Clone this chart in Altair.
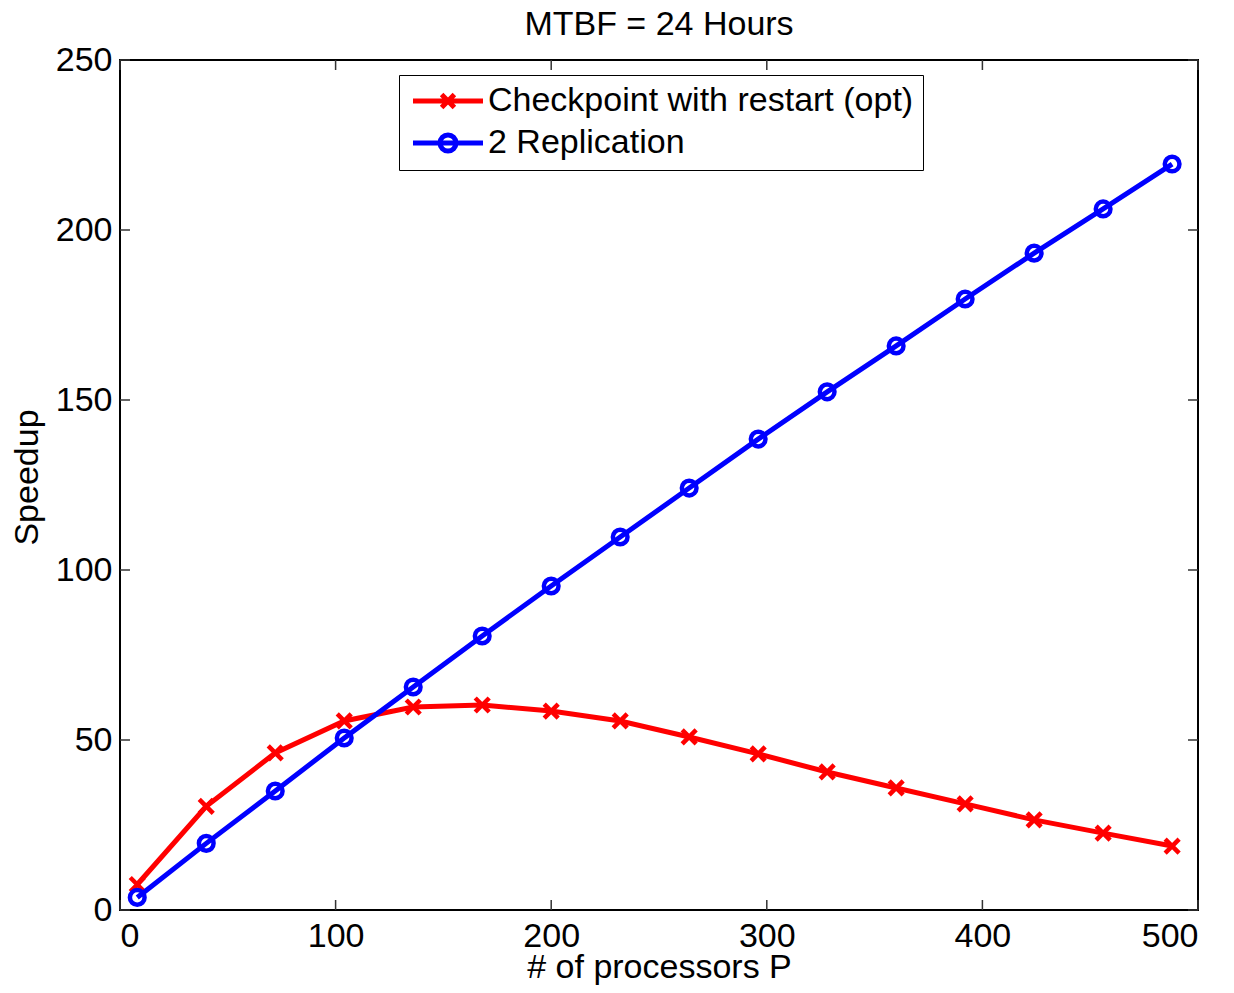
import altair as alt
import pandas as pd

# ---- data ----
procs = [8, 40, 72, 104, 136, 168, 200, 232, 264, 296, 328, 360, 392, 424, 456, 488]
checkpoint = [7.5, 30.5, 46.2, 55.6, 59.7, 60.3, 58.5, 55.6, 50.9, 45.9, 40.6, 35.9, 31.2, 26.5, 22.6, 18.8]
replication = [3.7, 19.6, 35.0, 50.6, 65.6, 80.6, 95.3, 109.7, 124.1, 138.5, 152.4, 165.9, 179.7, 193.2, 206.2, 219.4]
series_names = ["Checkpoint with restart (opt)", "2 Replication"]
series_colors = ["#ff0000", "#0000ff"]
x_ticks = [0, 100, 200, 300, 400, 500]
y_ticks = [0, 50, 100, 150, 200, 250]

FONT = "Liberation Sans"
FS = 34
W, H = 1078, 850

df = pd.DataFrame({
    "P": procs * 2,
    "Speedup": checkpoint + replication,
    "series": [series_names[0]] * len(procs) + [series_names[1]] * len(procs),
})

xs = alt.Scale(domain=[0, 500], nice=False, zero=False)
ys = alt.Scale(domain=[0, 250], nice=False)

x_axis = alt.Axis(values=x_ticks, grid=False, domain=False, ticks=False, tickSize=0,
                  labelFontSize=FS, labelFont=FONT, labelColor="black", labelPadding=9,
                  title="# of processors P", titleFontSize=FS, titleFont=FONT,
                  titleFontWeight="normal", titleColor="black", titleY=67,
                  titleBaseline="alphabetic")
y_axis = alt.Axis(values=y_ticks, grid=False, domain=False, ticks=False, tickSize=0,
                  labelFontSize=FS, labelFont=FONT, labelColor="black", labelPadding=8,
                  title="Speedup", titleFontSize=FS, titleFont=FONT,
                  titleFontWeight="normal", titleColor="black", titleX=-83, titleY=417,
                  titleBaseline="alphabetic")

base = alt.Chart(df)

cross_path = "M-1,-1L1,1M1,-1L-1,1"


def series_layers(name, color, shape, size):
    d = base.transform_filter(alt.datum.series == name)
    line = d.mark_line(color=color, strokeWidth=5).encode(
        x=alt.X("P:Q", scale=xs, axis=x_axis),
        y=alt.Y("Speedup:Q", scale=ys, axis=y_axis),
    )
    pts = d.mark_point(shape=shape, size=size, color=color, filled=False, strokeWidth=4.5,
                       opacity=1).encode(x=alt.X("P:Q", scale=xs), y=alt.Y("Speedup:Q", scale=ys))
    return [line, pts]


layers = []
layers += series_layers(series_names[0], series_colors[0], cross_path, 196)
layers += series_layers(series_names[1], series_colors[1], "circle", 215)

# legend symbols: line segment with the marker in the middle (units of 8 px)
leg_red = "M-1.5,0L7.25,0M2.075,-0.8L3.675,0.8M3.675,-0.8L2.075,0.8"
leg_blue = "M-1.5,0L7.25,0M3.875,0A1,1,0,1,1,1.875,0A1,1,0,1,1,3.875,0"

legend_cfg = dict(title=None, orient="none", legendX=279, legendY=15,
                  labelFontSize=FS, labelFont=FONT, labelColor="black",
                  labelOffset=46, symbolSize=256, symbolStrokeWidth=5,
                  strokeColor="black", fillColor="white", padding=9,
                  rowPadding=7, labelLimit=600)

legend_layer = base.transform_filter("false").mark_point(filled=False, strokeWidth=5, opacity=1).encode(
    x=alt.X("P:Q", scale=xs),
    y=alt.Y("Speedup:Q", scale=ys),
    color=alt.Color("series:N", scale=alt.Scale(domain=series_names, range=series_colors),
                    legend=alt.Legend(**legend_cfg)),
    shape=alt.Shape("series:N", scale=alt.Scale(domain=series_names, range=[leg_red, leg_blue]),
                    legend=alt.Legend(**legend_cfg)),
)

# inward tick marks on all four sides
xt = pd.DataFrame({"t": x_ticks})
yt = pd.DataFrame({"t": y_ticks})
tick_style = dict(color="#333333", strokeWidth=1.5)
tb = alt.Chart(xt).mark_rule(**tick_style).encode(x=alt.X("t:Q", scale=xs), y=alt.value(H), y2=alt.value(H - 10))
tt = alt.Chart(xt).mark_rule(**tick_style).encode(x=alt.X("t:Q", scale=xs), y=alt.value(0), y2=alt.value(10))
tl = alt.Chart(yt).mark_rule(**tick_style).encode(y=alt.Y("t:Q", scale=ys), x=alt.value(0), x2=alt.value(10))
tr = alt.Chart(yt).mark_rule(**tick_style).encode(y=alt.Y("t:Q", scale=ys), x=alt.value(W), x2=alt.value(W - 10))

chart = alt.layer(tb, tt, tl, tr, *layers, legend_layer).properties(
    width=W, height=H,
    background="white",
    title=alt.TitleParams("MTBF = 24 Hours", fontSize=FS, font=FONT, fontWeight="normal",
                          color="black", anchor="middle", offset=0, dy=-1, frame="group"),
    autosize=alt.AutoSizeParams(type="none"),
    padding={"left": 112, "top": 52, "right": 28, "bottom": 75},
).configure_view(stroke="black", strokeWidth=2)

chart.save("out.html", embed_options={"renderer": "svg", "actions": False})
